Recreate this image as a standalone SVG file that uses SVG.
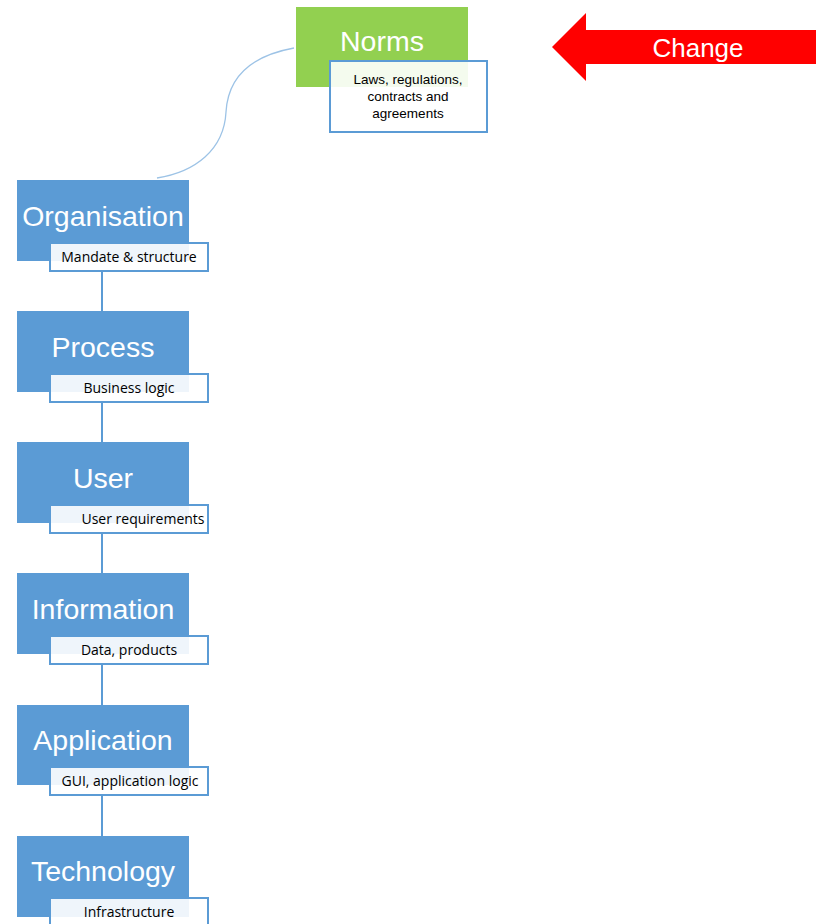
<svg xmlns="http://www.w3.org/2000/svg" width="816" height="924" viewBox="0 0 816 924">
<style>
.box{fill:#5b9bd5}
.green{fill:#92d050}
.sub{fill:#ffffff;fill-opacity:0.9;stroke:#5b9bd5;stroke-width:2}
.title{font-family:"Liberation Sans",Arial,sans-serif;font-size:28.5px;fill:#ffffff;text-anchor:middle}
.subt{font-family:"Open Sans","Liberation Sans",sans-serif;font-size:14px;fill:#000000;text-anchor:middle}
.subn{font-family:"Liberation Sans",Arial,sans-serif;font-size:13.5px;fill:#000000;text-anchor:middle}
.conn{stroke:#5b9bd5;stroke-width:2;fill:none}
.curve{stroke:#9dc3e6;stroke-width:1.3;fill:none}
</style>
<rect width="816" height="924" fill="#ffffff"/>
<g id="connectors">
<path class="curve" d="M294,48 C250,56 228,78 226,112 C224,150 195,172 157,178"/>
<line class="conn" x1="102" y1="271" x2="102" y2="311"/>
<line class="conn" x1="102" y1="402" x2="102" y2="442"/>
<line class="conn" x1="102" y1="533" x2="102" y2="573"/>
<line class="conn" x1="102" y1="664" x2="102" y2="705"/>
<line class="conn" x1="102" y1="795" x2="102" y2="836"/>
</g>
<g id="change">
<polygon points="552,47 586,13 586,30 816,30 816,64 586,64 586,81" fill="#ff0000"/>
<text x="698" y="57" font-family="Liberation Sans,Arial,sans-serif" font-size="26" fill="#ffffff" text-anchor="middle">Change</text>
</g>
<g id="norms">
<rect class="green" x="296" y="7" width="172" height="80"/>
<text class="title" x="382" y="51">Norms</text>
<rect class="sub" x="330" y="61" width="157" height="71"/>
<text class="subn" x="408" y="84">Laws, regulations,</text>
<text class="subn" x="408" y="101">contracts and</text>
<text class="subn" x="408" y="118">agreements</text>
</g>
<g id="organisation">
<rect class="box" x="17" y="180" width="172" height="81"/>
<text class="title" x="103" y="226">Organisation</text>
<rect class="sub" x="50" y="243" width="158" height="28"/>
<text class="subt" x="129" y="262">Mandate &amp; structure</text>
</g>
<g id="process">
<rect class="box" x="17" y="311" width="172" height="81"/>
<text class="title" x="103" y="357">Process</text>
<rect class="sub" x="50" y="374" width="158" height="28"/>
<text class="subt" x="129" y="393">Business logic</text>
</g>
<g id="user">
<rect class="box" x="17" y="442" width="172" height="81"/>
<text class="title" x="103" y="488">User</text>
<rect class="sub" x="50" y="505" width="158" height="28"/>
<text class="subt" x="143" y="524">User requirements</text>
</g>
<g id="information">
<rect class="box" x="17" y="573" width="172" height="81"/>
<text class="title" x="103" y="619">Information</text>
<rect class="sub" x="50" y="636" width="158" height="28"/>
<text class="subt" x="129" y="655">Data, products</text>
</g>
<g id="application">
<rect class="box" x="17" y="705" width="172" height="80"/>
<text class="title" x="103" y="750">Application</text>
<rect class="sub" x="50" y="767" width="158" height="28"/>
<text class="subt" x="130" y="786">GUI, application logic</text>
</g>
<g id="technology">
<rect class="box" x="17" y="836" width="172" height="81"/>
<text class="title" x="103" y="881">Technology</text>
<rect class="sub" x="50" y="898" width="158" height="30"/>
<text class="subt" x="129" y="917">Infrastructure</text>
</g>
</svg>
